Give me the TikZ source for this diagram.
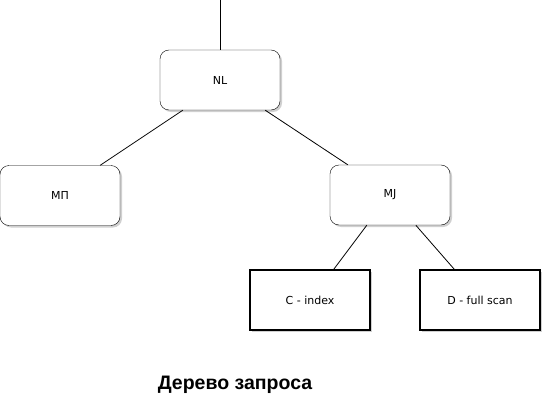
\documentclass[tikz,border=0pt]{standalone}
\usepackage{fontspec}
\setmainfont{DejaVu Sans}
\newfontfamily\titlefont{Liberation Sans}
\usetikzlibrary{shadows}
\definecolor{qtline}{HTML}{000000}
\definecolor{qtshadow}{HTML}{B0B0B0}

\begin{document}
\begin{tikzpicture}[x=1pt, y=-1pt,
  op/.style={draw=qtline, rounded corners=9pt, fill=white,
    minimum width=120pt, minimum height=60pt, font=\fontsize{11}{13}\selectfont,
    drop shadow={shadow xshift=2pt, shadow yshift=-2pt, fill=qtshadow, opacity=0.6}},
  scan/.style={op, rounded corners=0pt, line width=1.6pt},
  edge/.style={draw=qtline, line width=0.8pt},
  ttl/.style={font=\titlefont\bfseries\fontsize{19.5}{22}\selectfont}]
\useasboundingbox (0,0) rectangle (545,401);
% operator nodes
\node[op] (nl) at (220,80) {NL};
\node[op] (mp) at (60,195.5) {МП};
\node[op] (mj) at (390,195) {MJ};
% leaf scans
\node[scan] (cidx) at (310,300) {C - index};
\node[scan] (dfull) at (480,300) {D - full scan};
\coordinate (root) at (220,0);
\node[ttl] (title) at (235,385) {Дерево запроса};
% tree edges
\draw[edge] (root) -- (nl.north);
\draw[edge] ([xshift=23pt]nl.south west) -- ([xshift=-20pt]mp.north east);
\draw[edge] ([xshift=-15pt]nl.south east) -- ([xshift=18pt]mj.north west);
\draw[edge] ([xshift=37pt]mj.south west) -- ([xshift=-37pt]cidx.north east);
\draw[edge] ([xshift=86pt]mj.south west) -- ([xshift=35pt]dfull.north west);
\end{tikzpicture}
\end{document}
